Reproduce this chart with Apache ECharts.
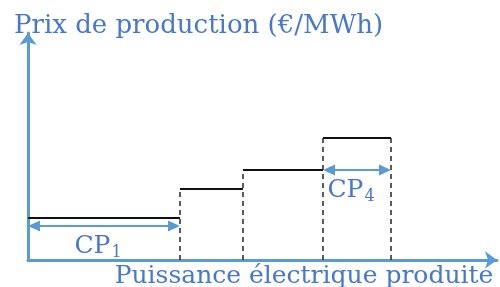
<!DOCTYPE html>
<html>
<head>
<meta charset="utf-8">
<script src="https://cdn.jsdelivr.net/npm/echarts@6/dist/echarts.min.js"></script>
<style>
  html, body { margin: 0; padding: 0; background: #fff; }
  #chart { width: 500px; height: 287px; }
</style>
</head>
<body>
<div id="chart"></div>
<script>
// capacity of each plant (CP1..CP4) and its production price, arbitrary units
const capacities = [152, 63, 80, 68];
const prices = [42, 71, 90, 122];
// which plants get a capacity arrow, and at which price level the arrow sits
const arrowPlants = [0, 3];
const arrowLevels = [34, 90];

const blue = '#5b9bd5';
const textBlue = '#4777d0';
const serif = "'DejaVu Serif', 'Liberation Serif', serif";

// cumulative start / end of each plant along the power axis
const starts = [];
const ends = [];
let acc = 0;
capacities.forEach(function (c) {
    starts.push(acc);
    acc += c;
    ends.push(acc);
});

const stepData = prices.map(function (p, i) { return [starts[i], ends[i], p]; });
// dashed boundary at the end of each plant, up to the higher neighbouring step
const boundaryData = ends.map(function (x, i) {
    const next = i + 1 < prices.length ? prices[i + 1] : 0;
    return [x, Math.max(prices[i], next)];
});
const arrowData = arrowPlants.map(function (k, j) {
    return [starts[k], ends[k], arrowLevels[j], String(k + 1)];
});

const chart = echarts.init(document.getElementById('chart'));
chart.setOption({
    animation: false,
    grid: { left: 28, right: 3, top: 33, bottom: 27, outerBoundsMode: 'none', containLabel: false },
    xAxis: {
        type: 'value', min: 0, max: 469,
        name: 'Puissance électrique produite',
        nameLocation: 'middle', nameGap: 4,
        nameTextStyle: { color: textBlue, fontFamily: serif, fontSize: 25, padding: [0, 0, 0, 83] },
        axisLine: { show: true, symbol: ['none', 'arrow'], symbolSize: [13, 12], lineStyle: { color: blue, width: 3 } },
        axisTick: { show: false }, axisLabel: { show: false }, splitLine: { show: false }
    },
    yAxis: {
        type: 'value', min: 0, max: 227,
        name: 'Prix de production (€/MWh)',
        nameLocation: 'end', nameGap: -6,
        nameTextStyle: { color: textBlue, fontFamily: serif, fontSize: 26, align: 'left', padding: [0, 0, 0, -14] },
        axisLine: { show: true, symbol: ['none', 'arrow'], symbolSize: [13, 12], lineStyle: { color: blue, width: 3 } },
        axisTick: { show: false }, axisLabel: { show: false }, splitLine: { show: false }
    },
    series: [
        {
            type: 'custom', name: 'dashed',
            data: boundaryData,
            renderItem: function (params, api) {
                const a = api.coord([api.value(0), 0]);
                const b = api.coord([api.value(0), api.value(1)]);
                return {
                    type: 'line',
                    shape: { x1: a[0], y1: a[1], x2: b[0], y2: b[1] },
                    style: { stroke: '#333', lineWidth: 1.6, lineDash: [5, 4] }
                };
            },
            z: 2
        },
        {
            type: 'custom', name: 'steps',
            data: stepData,
            renderItem: function (params, api) {
                const a = api.coord([api.value(0), api.value(2)]);
                const b = api.coord([api.value(1), api.value(2)]);
                return {
                    type: 'line',
                    shape: { x1: a[0], y1: a[1], x2: b[0], y2: b[1] },
                    style: { stroke: '#111', lineWidth: 2.2 }
                };
            },
            z: 3
        },
        {
            type: 'custom', name: 'capacity',
            data: arrowData,
            renderItem: function (params, api) {
                const a = api.coord([api.value(0), api.value(2)]);
                const b = api.coord([api.value(1), api.value(2)]);
                const head = 12, half = 5.5;
                const y = a[1];
                return {
                    type: 'group',
                    children: [
                        { type: 'line', shape: { x1: a[0] + 4, y1: y, x2: b[0] - 4, y2: y }, style: { stroke: blue, lineWidth: 2.2 } },
                        { type: 'polygon', shape: { points: [[a[0], y], [a[0] + head, y - half], [a[0] + head, y + half]] }, style: { fill: blue } },
                        { type: 'polygon', shape: { points: [[b[0], y], [b[0] - head, y - half], [b[0] - head, y + half]] }, style: { fill: blue } },
                        {
                            type: 'text',
                            x: (a[0] + b[0]) / 2 - 6, y: y + 5,
                            style: {
                                text: '{m|CP}{s|' + api.value(3) + '}',
                                align: 'center', verticalAlign: 'top',
                                rich: {
                                    m: { fontFamily: serif, fontSize: 25, fill: textBlue },
                                    s: { fontFamily: serif, fontSize: 16, fill: textBlue, verticalAlign: 'bottom', padding: [14, 0, 0, 1] }
                                }
                            }
                        }
                    ]
                };
            },
            z: 4
        }
    ]
});
</script>
</body>
</html>
